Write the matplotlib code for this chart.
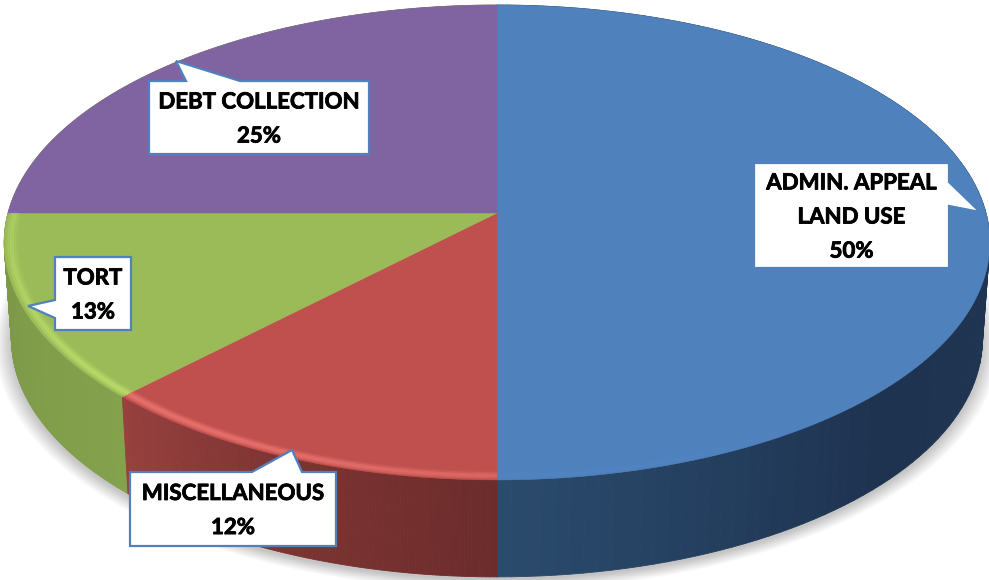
import numpy as np
import matplotlib
matplotlib.use('Agg')
import matplotlib.pyplot as plt
import matplotlib.patheffects as pe
from matplotlib.collections import PolyCollection, LineCollection
from matplotlib.colors import to_rgb
from matplotlib.patches import Polygon

categories = ['ADMIN. APPEAL\nLAND USE', 'MISCELLANEOUS', 'TORT', 'DEBT COLLECTION']
shares = [50, 12.3, 12.7, 25]
share_labels = ['50%', '12%', '13%', '25%']

top_colors = ['#4f81bd', '#c0504d', '#9bbb59', '#8064a2']
rim_colors = ['#5f92d6', '#ef7873', '#bfe26c', '#8064a2']
rim_strength = [0.3, 1.0, 1.0, 0.0]
# wall colour at the start and middle and end of each slice
wall_colors = [['#1f3552', '#1e3350', '#2b4c6e'],
               ['#6c2c2c', '#7c3432', '#97403e'],
               ['#84a24c', '#7f9c4a', '#7c9848'],
               ['#7c9848', '#7c9848', '#7c9848']]

# pie drawn in pixel space with a simple perspective
cx, cy = 497, 213
R, S, k = 489, 233.8, 0.124
depth = 97
bottom_scale = 0.985


def project(theta, r=1.0, z=0.0):
    # theta is clockwise from the top of the pie, in degrees
    t = np.radians(theta)
    X, Y = r*np.sin(t), r*np.cos(t)
    w = 1 + k*Y
    scale = 1 - z*(1 - bottom_scale)
    return cx + scale*R*X/w, cy - S*Y/w + z*depth


def lerp_colors(stops, f):
    stops = np.array([to_rgb(c) for c in stops])
    pos = np.linspace(0, 1, len(stops))
    return np.column_stack([np.interp(f, pos, stops[:, i]) for i in range(3)])


fig = plt.figure(figsize=(9.89, 5.80), dpi=100)
ax = fig.add_axes([0, 0, 1, 1])
ax.set_xlim(0, 989)
ax.set_ylim(580, 0)
ax.axis('off')

# soft shadow under the pie
full = np.linspace(0, 360, 361)
for i in range(12):
    sx, sy = project(full, r=1.0 + 0.003*i, z=1.0)
    ax.add_patch(Polygon(np.column_stack([sx, sy + 3]), closed=True, fc='k', ec='none',
                         alpha=0.02, zorder=1))

edges = np.concatenate([[0], np.cumsum(shares)])*3.6

# outer wall, one thin quad per step so it can be shaded
# back slice goes first so the green wall sits on top of it
for i in [3, 0, 2, 1]:
    th = np.linspace(edges[i], edges[i+1], 120)
    x0, y0 = project(th)
    x1, y1 = project(th, z=1.0)
    quads = [[(x0[j], y0[j]), (x0[j+1], y0[j+1]), (x1[j+1], y1[j+1]), (x1[j], y1[j])]
             for j in range(len(th)-1)]
    if i == 0:
        # blue slice: only the front half shows, so shade over that part
        f = np.clip((th[:-1] - 90)/90, 0, 1)
    else:
        f = np.linspace(0, 1, len(quads))
    shade = lerp_colors(wall_colors[i], f)
    ax.add_collection(PolyCollection(quads, facecolors=shade, edgecolors=shade,
                                     linewidths=0.6, zorder=2))

# top face with the light rim near the edge
for i in range(len(shares)):
    th = np.linspace(edges[i], edges[i+1], 200)
    x0, y0 = project(th)
    poly = np.vstack([[cx, cy], np.column_stack([x0, y0])])
    ax.add_patch(Polygon(poly, closed=True, fc=top_colors[i], ec=top_colors[i], lw=0.4, zorder=3))
    if rim_strength[i] == 0:
        continue
    # brightest around the lower left, weaker towards the front and the sides
    fade = 0.4 + 0.6*np.exp(-((th - 225)/40)**2)
    fade = fade*np.clip((th - 110)/50, 0, 1)
    rim_rgb = to_rgb(rim_colors[i])
    for r, lw, a in [(0.994, 1.5, 0.2), (0.99, 2.5, 0.5), (0.985, 2.5, 0.7),
                     (0.98, 2.5, 0.4), (0.975, 2.5, 0.15)]:
        rx, ry = project(th, r=r)
        pts = np.column_stack([rx, ry])
        segs = np.stack([pts[:-1], pts[1:]], axis=1)
        cols = [rim_rgb + (a*rim_strength[i]*fade[j],) for j in range(len(segs))]
        ax.add_collection(LineCollection(segs, colors=cols, linewidths=lw, zorder=4,
                                         capstyle='butt'))

# callouts: box left, right, top, bottom, then the pointer tip and its base
boxes = [(754, 949, 163, 268), (130, 336, 472, 546), (55, 131, 257, 330), (149, 369, 81, 154)]
tips = [(980, 212), (292, 450), (28, 306), (176, 61)]
bases = [(182, 206), (252, 302), (300, 318), (186, 240)]
sides = ['right', 'top', 'left', 'top']

for i in range(len(boxes)):
    l, r, t, b = boxes[i]
    a, c = bases[i]
    if sides[i] == 'right':
        outline = [(l, t), (r, t), (r, a), tips[i], (r, c), (r, b), (l, b)]
    elif sides[i] == 'left':
        outline = [(l, t), (r, t), (r, b), (l, b), (l, c), tips[i], (l, a)]
    else:
        outline = [(l, t), (a, t), tips[i], (c, t), (r, t), (r, b), (l, b)]
    ax.add_patch(Polygon(outline, closed=True, fc='white', ec='#4f81bd', lw=1.6,
                         joinstyle='miter', zorder=6))
    txt = ax.text((l + r)/2, (t + b)/2 + 1.5, categories[i] + '\n' + share_labels[i], ha='center',
                  va='center', family='Lato', fontweight='bold', fontsize=16, color='black',
                  linespacing=1.77, zorder=7)
    # lato bold is lighter than the original face
    txt.set_path_effects([pe.withStroke(linewidth=0.6, foreground='black')])

fig.savefig('out.png', dpi=100)
